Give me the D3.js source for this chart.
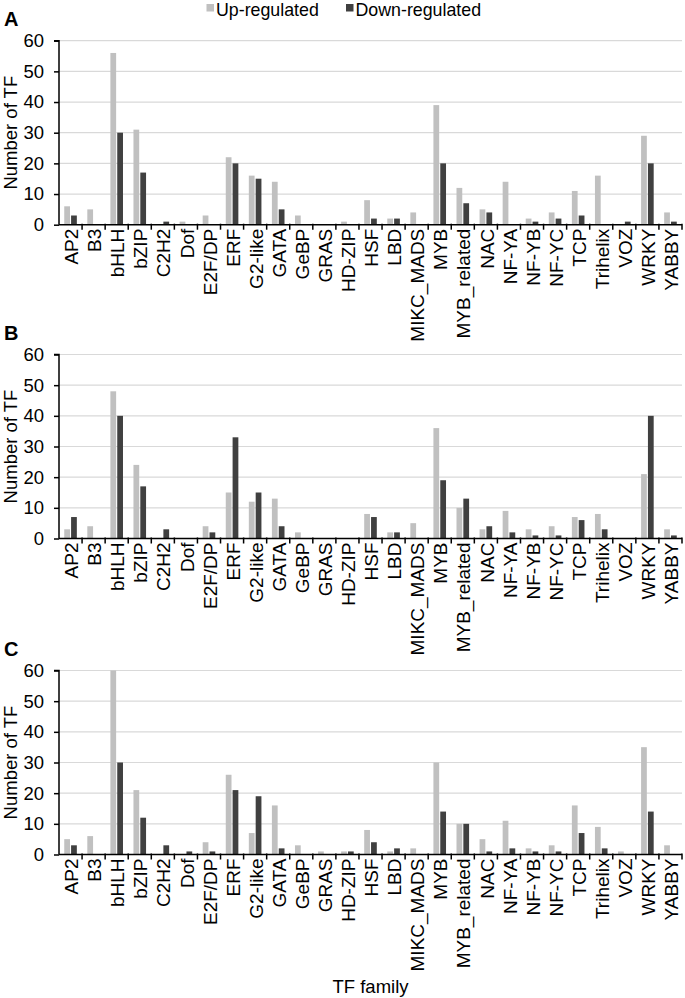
<!DOCTYPE html>
<html>
<head>
<meta charset="utf-8">
<script src="https://cdn.jsdelivr.net/npm/d3@7"></script>
<style>
  html, body { margin: 0; padding: 0; background: #fff; }
  svg { display: block; font-family: "Liberation Sans", Arial, sans-serif; }
</style>
</head>
<body>
<svg id="chart" width="685" height="998"></svg>
<script>
const categories = ["AP2","B3","bHLH","bZIP","C2H2","Dof","E2F/DP","ERF","G2-like","GATA","GeBP","GRAS","HD-ZIP","HSF","LBD","MIKC_MADS","MYB","MYB_related","NAC","NF-YA","NF-YB","NF-YC","TCP","Trihelix","VOZ","WRKY","YABBY"];
const seriesNames = ["Up-regulated", "Down-regulated"];
const upA   = [6,5,56,31,0,1,3,22,16,14,3,0,1,8,2,4,39,12,5,14,2,4,11,16,0,29,4];
const downA = [3,0,30,17,1,0,0,20,15,5,0,0,0,2,2,0,20,7,4,0,1,2,3,0,1,20,1];
const upB   = [3,4,48,24,0,0,4,15,12,13,2,0,0,8,2,5,36,10,3,9,3,4,7,8,0,21,3];
const downB = [7,0,40,17,3,0,2,33,15,4,0,0,0,7,2,0,19,13,4,2,1,1,6,3,0,40,1];
const upC   = [5,6,60,21,0,0,4,26,7,16,3,1,1,8,1,2,30,10,5,11,2,3,16,9,1,35,3];
const downC = [3,0,30,12,3,1,1,21,19,2,0,0,1,4,2,0,14,10,1,2,1,1,7,2,0,14,0];
const yTicks = [0,10,20,30,40,50,60];
const panelLabels = ["A","B","C"];
const yTitle = "Number of TF";
const xTitle = "TF family";

const colors = { up: "#c0c0c0", down: "#404040" };
const svg = d3.select("#chart");
const FONT = 18.5;
const CATFONT = 19;

const left = 59, right = 682, plotH = 184;
const panelTops = [40.7, 354.5, 670.5];
const panels = [
  { label: panelLabels[0], up: upA, down: downA },
  { label: panelLabels[1], up: upB, down: downB },
  { label: panelLabels[2], up: upC, down: downC }
];

const x0 = d3.scaleBand().domain(categories).range([left, right]).paddingInner(0).paddingOuter(0);
const bw = x0.bandwidth();
const x1 = d3.scaleBand().domain(["up","down"]).range([bw/2 - 6.3, bw/2 + 6.3]).paddingInner(0.16);

panels.forEach((p, pi) => {
  const top = panelTops[pi];
  const y = d3.scaleLinear().domain([0, 60]).range([top + plotH, top]);
  const g = svg.append("g");

  // gridlines
  g.selectAll("line.grid").data(yTicks.filter(t => t > 0)).enter().append("line")
    .attr("x1", left).attr("x2", right)
    .attr("y1", d => y(d)).attr("y2", d => y(d))
    .attr("stroke", "#d9d9d9").attr("stroke-width", 1.2);

  // bars
  const rows = categories.map((c, i) => ({ c, up: p.up[i], down: p.down[i] }));
  const grp = g.selectAll("g.cat").data(rows).enter().append("g")
    .attr("transform", d => `translate(${x0(d.c)},0)`);
  grp.selectAll("rect").data(d => [{k:"up", v:d.up},{k:"down", v:d.down}].filter(e => e.v > 0))
    .enter().append("rect")
    .attr("x", e => x1(e.k)).attr("width", x1.bandwidth())
    .attr("y", e => y(e.v)).attr("height", e => y(0) - y(e.v))
    .attr("fill", e => colors[e.k]);

  // y axis
  const ya = d3.axisLeft(y).tickValues(yTicks).tickSize(5).tickPadding(10);
  const yg = g.append("g").attr("transform", `translate(${left},0)`).call(ya);
  yg.select(".domain").attr("stroke", "#000").attr("stroke-width", 1.5).attr("d", `M-5,${y(60)}H0V${y(0)}`);
  yg.selectAll(".tick line").attr("stroke", "#000").attr("stroke-width", 1.5);
  yg.selectAll(".tick text").attr("font-size", FONT).attr("fill", "#000").attr("font-family", "Liberation Sans, Arial, sans-serif");

  // x axis line + ticks at category boundaries
  g.append("line").attr("x1", left).attr("x2", right).attr("y1", y(0)).attr("y2", y(0))
    .attr("stroke", "#000").attr("stroke-width", 1.5);
  const bounds = categories.map(c => x0(c) + bw);
  g.selectAll("line.xt").data(bounds).enter().append("line")
    .attr("x1", d => d).attr("x2", d => d)
    .attr("y1", y(0) - 1).attr("y2", y(0) + 5)
    .attr("stroke", "#000").attr("stroke-width", 1.5);

  // category labels
  g.selectAll("text.cat").data(categories).enter().append("text")
    .attr("transform", d => `translate(${x0(d) + bw/2 + 1},${y(0) + 4}) rotate(-90)`)
    .attr("text-anchor", "end").attr("dy", "0.35em")
    .attr("font-size", CATFONT).attr("fill", "#000")
    .text(d => d);

  // y title
  g.append("text")
    .attr("transform", `translate(17,${top + plotH/2}) rotate(-90)`)
    .attr("text-anchor", "middle").attr("font-size", FONT).attr("fill", "#000")
    .text(yTitle);

  // panel label
  g.append("text").attr("x", 4).attr("y", top - 15)
    .attr("font-size", 20).attr("font-weight", "bold").attr("fill", "#000")
    .text(p.label);
});

// x title
svg.append("text").attr("x", (left + right)/2).attr("y", 993)
  .attr("text-anchor", "middle").attr("font-size", FONT).attr("fill", "#000")
  .text(xTitle);

// legend
const legendItems = [
  { name: seriesNames[0], color: colors.up, x: 206.5 },
  { name: seriesNames[1], color: colors.down, x: 346 }
];
const lg = svg.append("g");
legendItems.forEach(it => {
  lg.append("rect").attr("x", it.x).attr("y", 4).attr("width", 7.5).attr("height", 7.5).attr("fill", it.color);
  lg.append("text").attr("x", it.x + 9.5).attr("y", 15.5).attr("font-size", 17.8).attr("fill", "#000").text(it.name);
});
</script>
</body>
</html>
